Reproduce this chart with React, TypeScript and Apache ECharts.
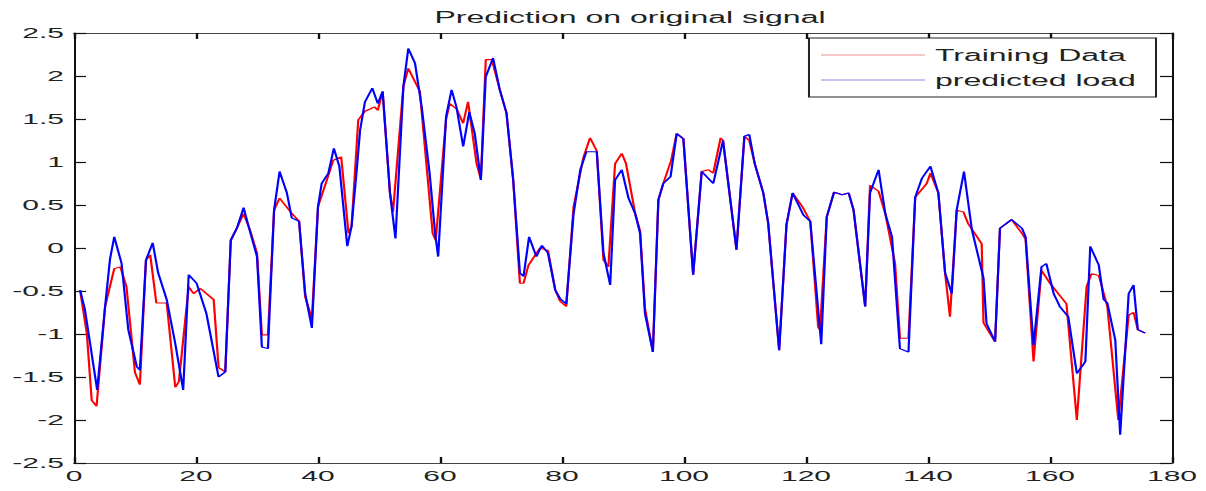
import React, { useEffect, useRef } from "react";
import * as echarts from "echarts";

const chartTitle = "Prediction on original signal";
const seriesNames = ["Training Data", "predicted load"];
const xTicks = { min: 0, max: 180, interval: 20 };
const yTicks = { min: -2.5, max: 2.5, interval: 0.5 };

// [sample index, value]
const trainingData: [number, number][] = [
  [1.0, -0.49], [2.1, -0.99], [2.9, -1.77], [3.7, -1.84], [5.1, -0.68], [6.6, -0.24], [7.6, -0.22], [8.6, -0.45],
  [10.0, -1.45], [10.8, -1.59], [11.8, -0.14], [12.5, -0.08], [13.5, -0.64], [15.2, -0.64], [16.6, -1.62], [17.2, -1.55],
  [18.8, -0.45], [19.6, -0.53], [20.7, -0.47], [22.9, -0.6], [23.7, -1.39], [24.8, -1.44], [25.7, 0.09], [26.7, 0.23],
  [27.8, 0.4], [28.9, 0.2], [30.0, -0.06], [30.8, -1.01], [31.8, -1.01], [32.8, 0.44], [33.7, 0.58], [35.5, 0.42],
  [36.9, 0.31], [37.9, -0.57], [39.0, -0.82], [40.0, 0.48], [41.5, 0.8], [42.5, 1.02], [43.8, 1.06], [45.0, 0.17],
  [45.5, 0.25], [46.6, 1.49], [47.7, 1.59], [49.3, 1.64], [49.8, 1.6], [50.6, 1.82], [51.8, 0.64], [52.3, 0.42],
  [54.0, 1.88], [54.8, 2.09], [56.7, 1.82], [58.8, 0.17], [59.3, 0.09], [61.0, 1.5], [61.6, 1.68], [62.7, 1.62],
  [63.8, 1.45], [64.6, 1.7], [66.0, 0.98], [66.7, 0.8], [67.5, 2.19], [68.5, 2.19], [69.8, 1.84], [70.9, 1.57],
  [72.0, 0.79], [73.1, -0.41], [73.7, -0.41], [74.5, -0.2], [76.4, 0.0], [77.7, -0.03], [78.9, -0.49], [79.7, -0.62],
  [80.7, -0.68], [81.9, 0.48], [83.5, 1.05], [84.6, 1.28], [85.7, 1.13], [86.8, -0.14], [87.6, -0.22], [88.7, 0.98],
  [89.8, 1.1], [90.5, 0.98], [92.0, 0.4], [92.8, 0.2], [93.6, -0.7], [94.9, -1.21], [95.8, 0.56], [96.6, 0.75],
  [97.9, 1.02], [98.8, 1.33], [99.9, 1.27], [101.5, -0.31], [102.9, 0.89], [104.0, 0.91], [104.8, 0.87], [106.0, 1.28],
  [106.4, 1.25], [108.6, -0.02], [109.9, 1.3], [110.7, 1.25], [111.6, 0.98], [113.0, 0.64], [113.8, 0.29], [115.6, -1.19],
  [116.8, 0.27], [117.8, 0.64], [119.4, 0.48], [120.7, 0.31], [122.0, -0.92], [122.3, -0.95], [123.4, 0.36], [124.6, 0.65],
  [125.9, 0.62], [127.0, 0.64], [127.8, 0.44], [129.7, -0.68], [130.5, 0.73], [131.9, 0.66], [133.0, 0.4], [134.6, -0.18],
  [135.4, -1.05], [136.8, -1.05], [137.9, 0.59], [139.8, 0.75], [140.4, 0.87], [141.7, 0.64], [142.8, -0.29], [143.6, -0.8],
  [144.7, 0.44], [145.8, 0.42], [146.6, 0.28], [148.8, 0.05], [149.1, -0.87], [151.0, -1.09], [151.8, 0.23], [153.7, 0.33],
  [155.4, 0.17], [156.0, 0.1], [157.3, -1.32], [158.6, -0.26], [160.0, -0.41], [162.7, -0.65], [164.4, -2.0], [166.0, -0.45],
  [166.8, -0.3], [168.0, -0.32], [169.4, -0.68], [171.2, -2.0], [172.9, -0.78], [173.7, -0.75], [174.4, -0.95], [175.6, -0.99],
];

const predictedLoad: [number, number][] = [
  [1.0, -0.49], [1.8, -0.72], [3.8, -1.65], [5.1, -0.68], [5.9, -0.13], [6.6, 0.13], [7.8, -0.18], [8.9, -0.95],
  [10.3, -1.38], [10.8, -1.42], [11.8, -0.14], [12.9, 0.06], [13.8, -0.29], [15.2, -0.6], [16.6, -1.11], [17.9, -1.65],
  [18.8, -0.31], [20.1, -0.41], [21.7, -0.76], [23.7, -1.5], [24.8, -1.44], [25.7, 0.09], [26.7, 0.23], [27.8, 0.47],
  [28.9, 0.18], [30.0, -0.1], [30.8, -1.15], [31.8, -1.17], [32.8, 0.44], [33.7, 0.89], [34.9, 0.64], [35.7, 0.35],
  [36.9, 0.31], [37.9, -0.53], [39.0, -0.93], [40.0, 0.48], [40.6, 0.75], [41.7, 0.87], [42.6, 1.16], [43.5, 0.95],
  [44.8, 0.02], [45.5, 0.25], [46.3, 0.87], [46.9, 1.37], [47.7, 1.7], [48.9, 1.86], [49.8, 1.68], [50.6, 1.82],
  [51.8, 0.64], [52.7, 0.11], [54.0, 1.88], [54.8, 2.32], [55.9, 2.15], [57.0, 1.64], [58.3, 0.87], [59.2, 0.17],
  [59.7, -0.1], [61.0, 1.53], [61.9, 1.84], [62.7, 1.64], [63.8, 1.18], [64.8, 1.58], [65.7, 1.33], [66.7, 0.79],
  [67.5, 1.99], [68.7, 2.21], [69.8, 1.84], [70.9, 1.57], [72.0, 0.79], [73.1, -0.29], [73.7, -0.33], [74.6, 0.13],
  [75.8, -0.1], [76.7, 0.03], [77.7, -0.06], [78.9, -0.49], [79.7, -0.59], [80.7, -0.65], [81.9, 0.4], [83.0, 0.91],
  [84.0, 1.12], [85.7, 1.12], [86.8, -0.06], [87.9, -0.43], [88.7, 0.79], [89.8, 0.91], [90.9, 0.58], [92.0, 0.4],
  [92.8, 0.17], [93.6, -0.76], [94.9, -1.21], [95.8, 0.56], [96.6, 0.75], [97.8, 0.83], [98.8, 1.33], [99.9, 1.27],
  [101.5, -0.31], [102.9, 0.89], [104.8, 0.75], [106.4, 1.25], [108.6, -0.02], [109.9, 1.3], [110.7, 1.32], [111.6, 0.98],
  [113.0, 0.64], [113.8, 0.29], [115.6, -1.19], [116.8, 0.27], [117.8, 0.64], [119.6, 0.38], [120.7, 0.31], [122.5, -1.12],
  [123.4, 0.36], [124.6, 0.65], [125.9, 0.62], [127.0, 0.64], [127.8, 0.44], [129.7, -0.68], [130.5, 0.64], [131.9, 0.91],
  [133.0, 0.4], [134.1, 0.13], [135.4, -1.17], [136.8, -1.21], [137.9, 0.59], [139.0, 0.81], [140.4, 0.95], [141.7, 0.64],
  [142.8, -0.29], [143.9, -0.53], [144.7, 0.44], [145.9, 0.89], [147.2, 0.21], [149.1, -0.35], [149.6, -0.88], [151.0, -1.09],
  [151.8, 0.23], [153.7, 0.33], [155.4, 0.23], [156.0, 0.13], [157.3, -1.13], [158.6, -0.22], [159.4, -0.18], [160.6, -0.53],
  [161.6, -0.68], [163.0, -0.8], [164.4, -1.46], [165.8, -1.32], [166.6, 0.02], [168.0, -0.2], [168.8, -0.6], [169.4, -0.64],
  [170.7, -1.07], [171.5, -2.17], [172.9, -0.53], [173.7, -0.43], [174.4, -0.95], [175.6, -0.99],
];

const FONT = "Liberation Sans";
// the reference figure is stretched horizontally; draw at half width and stretch
const STRETCH = 2;
const W = 1206;
const H = 491;

export default function App() {
  const ref = useRef<HTMLDivElement>(null);
  useEffect(() => {
    if (!ref.current) return;
    const chart = echarts.init(ref.current, null, { renderer: "svg" });
    const axisText = { color: "#222", fontFamily: FONT, fontSize: 15 };
    const tick = { show: true, inside: true, length: 6, lineStyle: { color: "#111", width: 1.2 } };
    const axisLineStyle = { color: "#444", width: 1.2 };
    chart.setOption({
      animation: false,
      backgroundColor: "#fff",
      title: {
        text: chartTitle,
        left: 310,
        textAlign: "center",
        top: 4,
        textStyle: { color: "#222", fontFamily: FONT, fontSize: 16, fontWeight: "normal" },
      },
      legend: {
        orient: "vertical",
        right: 25,
        top: 38,
        icon: "rect",
        itemWidth: 52,
        itemHeight: 1.2,
        itemGap: 9,
        padding: [9, 10, 9, 6],
        borderColor: "#222",
        borderWidth: 1,
        borderRadius: 0,
        backgroundColor: "#fff",
        textStyle: { color: "#222", fontFamily: FONT, fontSize: 16, lineHeight: 16 },
        data: [
          { name: seriesNames[0], itemStyle: { color: "#f09090" } },
          { name: seriesNames[1], itemStyle: { color: "#8888e0" } },
        ],
      },
      grid: { left: 37, right: 17, top: 33, bottom: 28 },
      xAxis: [
        {
          type: "value",
          position: "bottom",
          ...xTicks,
          axisLine: { show: true, onZero: false, lineStyle: axisLineStyle },
          axisTick: tick,
          axisLabel: { ...axisText, margin: 5 },
          splitLine: { show: false },
        },
        {
          type: "value",
          position: "top",
          ...xTicks,
          axisLine: { show: true, onZero: false, lineStyle: axisLineStyle },
          axisTick: tick,
          axisLabel: { show: false },
          splitLine: { show: false },
        },
      ],
      yAxis: [
        {
          type: "value",
          position: "left",
          ...yTicks,
          axisLine: { show: true, onZero: false, lineStyle: { color: "#111", width: 1 } },
          axisTick: tick,
          axisLabel: { ...axisText, margin: 5 },
          splitLine: { show: false },
        },
        {
          type: "value",
          position: "right",
          ...yTicks,
          axisLine: { show: true, onZero: false, lineStyle: { color: "#111", width: 1 } },
          axisTick: tick,
          axisLabel: { show: false },
          splitLine: { show: false },
        },
      ],
      series: [
        {
          name: seriesNames[0],
          type: "line",
          data: trainingData,
          symbol: "none",
          lineStyle: { color: "#ff0000", width: 1.1 },
          itemStyle: { color: "#ff0000" },
          z: 2,
        },
        {
          name: seriesNames[1],
          type: "line",
          data: predictedLoad,
          symbol: "none",
          lineStyle: { color: "#0000ff", width: 1.1 },
          itemStyle: { color: "#0000ff" },
          z: 3,
        },
      ],
    });
    return () => chart.dispose();
  }, []);
  return (
    <div
      style={{ position: "fixed", left: 0, top: 0, width: W, height: H, background: "#fff", overflow: "hidden" }}
    >
      <div
        ref={ref}
        style={{
          width: W / STRETCH,
          height: H,
          transform: `scaleX(${STRETCH})`,
          transformOrigin: "0 0",
        }}
      />
    </div>
  );
}
